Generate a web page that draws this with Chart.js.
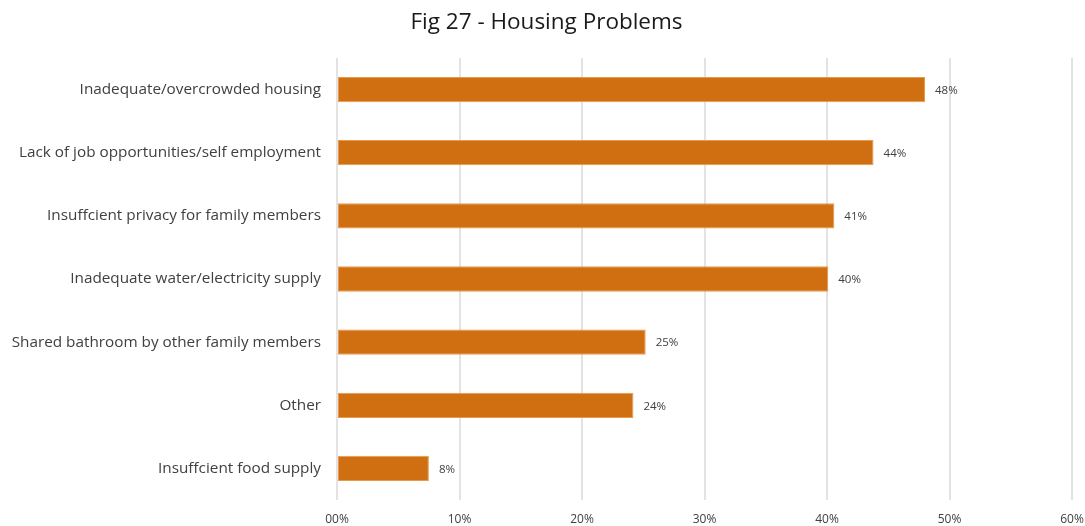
<!DOCTYPE html>
<html>
<head>
<meta charset="utf-8">
<script src="https://cdn.jsdelivr.net/npm/chart.js@4.4.1/dist/chart.umd.min.js"></script>
<style>
  html, body { margin: 0; padding: 0; background: #fff; }
  #wrap { width: 1085px; height: 526px; position: relative; }
</style>
</head>
<body>
<div id="wrap"><canvas id="myChart" width="1085" height="526"></canvas></div>
<script>
// --- Dados do gráfico ---
const categories = [
    'Inadequate/overcrowded housing',
    'Lack of job opportunities/self employment',
    'Insuffcient privacy for family members',
    'Inadequate water/electricity supply',
    'Shared bathroom by other family members',
    'Other',
    'Insuffcient food supply'
];
const values = [48.0, 43.8, 40.6, 40.1, 25.2, 24.2, 7.5];
const valueLabels = ['48%', '44%', '41%', '40%', '25%', '24%', '8%'];
const tickLabels = ['00%', '10%', '20%', '30%', '40%', '50%', '60%'];

const FONT = '"Open Sans", "Liberation Sans", sans-serif';

// rótulos no fim das barras
const barLabels = {
    id: 'barLabels',
    afterDatasetsDraw(chart) {
        const ctx = chart.ctx;
        const meta = chart.getDatasetMeta(0);
        ctx.save();
        ctx.font = '11.5px ' + FONT;
        ctx.fillStyle = '#404040';
        ctx.textAlign = 'left';
        ctx.textBaseline = 'middle';
        meta.data.forEach((bar, i) => {
            ctx.fillText(valueLabels[i], bar.x + 10, bar.y + 1);
        });
        ctx.restore();
    }
};

const ctx = document.getElementById('myChart').getContext('2d');
new Chart(ctx, {
    type: 'bar',
    data: {
        labels: categories,
        datasets: [{
            data: values,
            backgroundColor: '#D06F11',
            borderColor: '#E89A4C',
            borderWidth: 1,
            borderSkipped: false,
            categoryPercentage: 1.0,
            barPercentage: 0.4
        }]
    },
    options: {
        indexAxis: 'y',
        responsive: false,
        animation: false,
        layout: { padding: { left: 8, right: 0, top: 0, bottom: 0 } },
        plugins: {
            legend: { display: false },
            tooltip: { enabled: false },
            title: {
                display: true,
                text: 'Fig 27 - Housing Problems',
                color: '#1a1a1a',
                font: { family: FONT, size: 22.5, weight: 'normal' },
                padding: { top: 9, bottom: 22 }
            }
        },
        scales: {
            x: {
                min: 0,
                max: 60,
                ticks: {
                    stepSize: 10,
                    color: '#404040',
                    font: { family: FONT, size: 12 },
                    padding: 12,
                    callback: (v, i) => tickLabels[i]
                },
                grid: { color: '#e3e3e3', lineWidth: 2, drawTicks: false },
                border: { display: false },
                afterFit(scale) {
                    scale.height = 26;
                    scale.paddingRight = 13;
                }
            },
            y: {
                ticks: {
                    color: '#404040',
                    font: { family: FONT, size: 15.3 },
                    padding: 16
                },
                grid: { display: false, drawTicks: false },
                border: { display: false },
                afterFit(scale) { scale.width = 329; }
            }
        }
    },
    plugins: [barLabels]
});
</script>
</body>
</html>
